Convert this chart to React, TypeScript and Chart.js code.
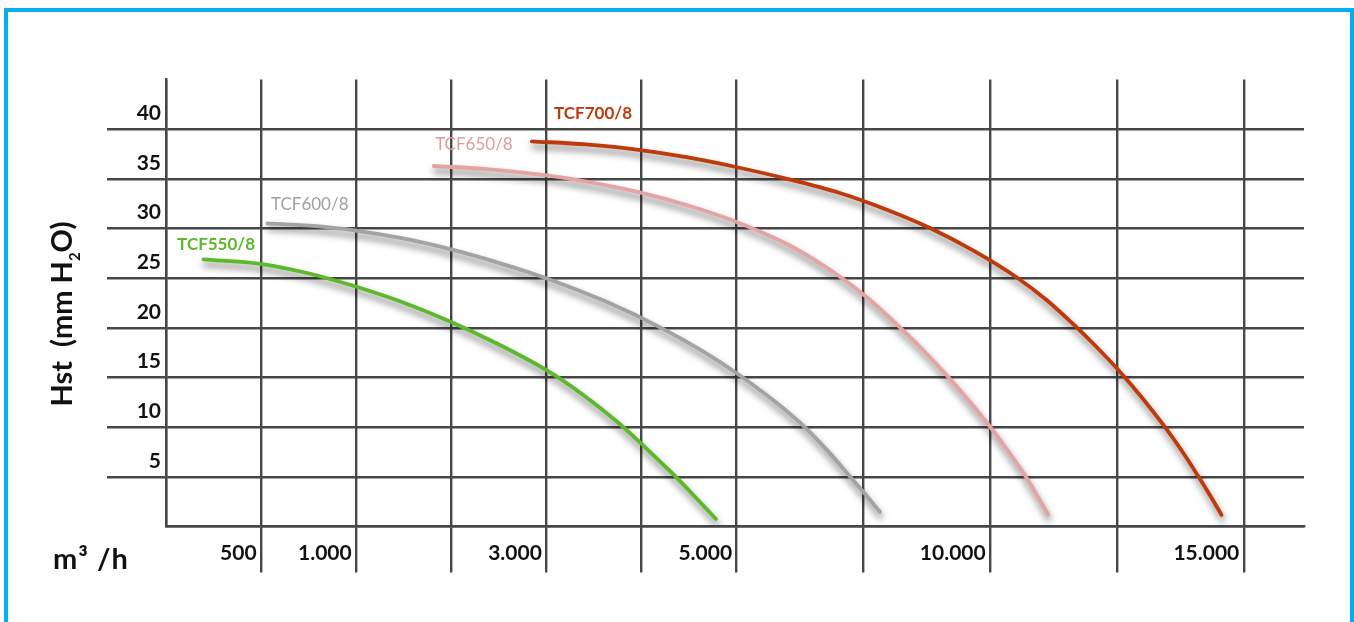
import React, { useEffect, useRef } from 'react';
import { Chart, registerables } from 'chart.js';

Chart.register(...registerables);

// ---------- data (x in axis grid units, y in mm H2O) ----------
const seriesNames = ['TCF550/8', 'TCF600/8', 'TCF650/8', 'TCF700/8'];

const tcf550X = [1.18, 2.97, 4.45, 5.93, 7.44, 8.96, 10.47, 11.99, 13.12, 14.26, 15.14, 15.99, 16.68, 17.35];
const tcf550Y = [26.9, 26.45, 25.52, 24.21, 22.6, 20.64, 18.37, 15.76, 13.34, 10.47, 7.9, 5.29, 3.02, 0.76];

const tcf600X = [3.2, 4.54, 5.93, 7.44, 8.96, 10.47, 11.99, 13.88, 15.68, 16.85, 17.98, 19.24, 20.19, 20.88, 21.51, 22.02, 22.52];
const tcf600Y = [30.52, 30.28, 29.82, 29.02, 27.92, 26.57, 25.0, 22.64, 19.9, 17.8, 15.48, 12.5, 9.88, 7.59, 5.29, 3.39, 1.48];

const tcf650X = [8.45, 10.19, 11.96, 13.44, 14.95, 16.47, 17.98, 19.68, 21.32, 22.21, 23.12, 23.91, 24.67, 25.33, 25.99, 26.53, 27.1, 27.83];
const tcf650Y = [36.29, 35.96, 35.37, 34.63, 33.63, 32.31, 30.69, 28.29, 25.02, 22.8, 20.14, 17.67, 15.07, 12.66, 10.07, 7.75, 5.13, 1.21];

const tcf700X = [11.54, 13.25, 14.95, 16.47, 17.98, 19.62, 21.26, 22.68, 24.1, 25.46, 26.84, 27.76, 28.68, 29.34, 30.0, 30.76, 31.51, 32.05, 32.56, 32.93, 33.3];
const tcf700Y = [38.78, 38.46, 37.9, 37.15, 36.19, 34.98, 33.57, 31.96, 30.05, 27.79, 25.07, 22.85, 20.19, 18.12, 15.91, 13.09, 10.02, 7.6, 5.08, 3.17, 1.16];

// curve name anchors (data units)
const labelAnchorX = [0.35, 3.31, 8.49, 12.24];
const labelAnchorY = [28.34, 32.37, 38.41, 41.53];

// axis ticks
const xGridUnits = [0, 3, 6, 9, 12, 15, 18, 22, 26, 30, 34];
const xTickLabels = ['', '500', '1.000', '', '3.000', '', '5.000', '', '10.000', '', '15.000'];
const yTickValues = [0, 5, 10, 15, 20, 25, 30, 35, 40];
const yTickLabels = ['', '5', '10', '15', '20', '25', '30', '35', '40'];

const xCaption = 'm³ /h';
const yCaptionParts = ['Hst  (mm H', '2', 'O)'];

// ---------- styles ----------
const FONT = 'Lato, "Open Sans", sans-serif';
const lineColors = ['#5DB92C', '#A3A3A3', '#E6A3A3', '#BF3A0A'];
const labelColors = ['#5DB92C', '#A0A0A0', '#E29A9A', '#BF3A0A'];
const labelWeights = ['bold', 'normal', 'normal', 'bold'];
const gridColor = '#474747';
const textColor = '#111111';

const seriesX = [tcf550X, tcf600X, tcf650X, tcf700X];
const seriesY = [tcf550Y, tcf600Y, tcf650Y, tcf700Y];

const shadowPlugin = {
  id: 'curveShadow',
  beforeDatasetDraw(chart: any) {
    const c = chart.ctx;
    c.save();
    c.shadowColor = 'rgba(0,0,0,0.55)';
    c.shadowBlur = 7;
    c.shadowOffsetX = 1;
    c.shadowOffsetY = 5;
  },
  afterDatasetDraw(chart: any) {
    chart.ctx.restore();
  },
};

const curveLabelPlugin = {
  id: 'curveLabels',
  afterDatasetsDraw(chart: any) {
    const { ctx } = chart;
    const xs = chart.scales.x;
    const ys = chart.scales.y;
    ctx.save();
    ctx.textAlign = 'left';
    ctx.textBaseline = 'middle';
    seriesNames.forEach((name, i) => {
      ctx.font = `${labelWeights[i]} 17px ${FONT}`;
      ctx.fillStyle = labelColors[i];
      ctx.fillText(name, xs.getPixelForValue(labelAnchorX[i]), ys.getPixelForValue(labelAnchorY[i]));
    });
    ctx.restore();
  },
};

const captionPlugin = {
  id: 'captions',
  afterDraw(chart: any) {
    const { ctx, chartArea } = chart;
    const xs = chart.scales.x;
    const ys = chart.scales.y;
    ctx.save();
    ctx.fillStyle = textColor;
    ctx.textBaseline = 'alphabetic';
    ctx.textAlign = 'left';
    ctx.font = `bold 29px ${FONT}`;
    try {
      (ctx as any).letterSpacing = '1px';
    } catch (e) {
      /* ignore */
    }
    ctx.fillText(xCaption, ys.left + 53, xs.top + 42);
    try {
      (ctx as any).letterSpacing = '0px';
    } catch (e) {
      /* ignore */
    }

    const big = `bold 29px ${FONT}`;
    const small = `bold 15px ${FONT}`;
    const fonts = [big, small, big];
    const shifts = [0, 8, 0];
    const widths = yCaptionParts.map((t, i) => {
      ctx.font = fonts[i];
      return ctx.measureText(t).width;
    });
    const total = widths.reduce((a, b) => a + b, 0);
    ctx.translate(ys.left + 72, (chartArea.top + chartArea.bottom) / 2 + 11);
    ctx.rotate(-Math.PI / 2);
    let x = -total / 2;
    yCaptionParts.forEach((t, i) => {
      ctx.font = fonts[i];
      ctx.fillText(t, x, shifts[i]);
      x += widths[i];
    });
    ctx.restore();
  },
};

export default function App() {
  const ref = useRef<HTMLCanvasElement>(null);

  useEffect(() => {
    const datasets = seriesNames.map((name, i) => ({
      label: name,
      data: seriesX[i].map((x, j) => ({ x, y: seriesY[i][j] })),
      borderColor: lineColors[i],
      backgroundColor: lineColors[i],
      borderWidth: 3.8,
      borderCapStyle: 'round' as const,
      borderJoinStyle: 'round' as const,
      pointRadius: 0,
      fill: false,
      cubicInterpolationMode: 'monotone' as const,
    }));

    const tickFont = { family: FONT, weight: 'bold' as const, size: 21 };

    const chart = new Chart(ref.current as HTMLCanvasElement, {
      type: 'line',
      data: { datasets },
      plugins: [shadowPlugin, curveLabelPlugin, captionPlugin],
      options: {
        responsive: false,
        animation: false,
        layout: { padding: { left: 0, top: 79.5, right: 50, bottom: 0 } },
        plugins: {
          legend: { display: false },
          tooltip: { enabled: false },
          title: { display: false },
        },
        scales: {
          x: {
            type: 'linear',
            min: 0,
            max: 35.9,
            afterBuildTicks: (s: any) => {
              s.ticks = xGridUnits.map((v) => ({ value: v }));
            },
            afterFit: (s: any) => {
              s.height = 95.5;
            },
            grid: {
              color: gridColor,
              lineWidth: 2.4,
              drawTicks: true,
              tickLength: 46,
              tickWidth: 2.4,
              tickColor: (c: any) => (c.tick && c.tick.value === 0 ? 'rgba(0,0,0,0)' : gridColor),
            },
            border: { display: true, color: gridColor, width: 2.4 },
            ticks: {
              autoSkip: false,
              maxRotation: 0,
              minRotation: 0,
              align: 'end',
              padding: -32,
              labelOffset: -4.5,
              color: textColor,
              font: tickFont,
              callback: (v: any) => {
                const k = xGridUnits.indexOf(Number(v));
                return k >= 0 ? xTickLabels[k] : '';
              },
            },
          },
          y: {
            type: 'linear',
            min: 0,
            max: 45,
            afterBuildTicks: (s: any) => {
              s.ticks = yTickValues.map((v) => ({ value: v }));
            },
            afterFit: (s: any) => {
              s.width = 166;
            },
            grid: {
              color: gridColor,
              lineWidth: 2.4,
              drawTicks: true,
              tickLength: 59,
              tickWidth: 2.4,
              tickColor: (c: any) => (c.tick && c.tick.value === 0 ? 'rgba(0,0,0,0)' : gridColor),
            },
            border: { display: true, color: gridColor, width: 2.4 },
            ticks: {
              autoSkip: false,
              padding: -54,
              labelOffset: -16,
              color: textColor,
              font: tickFont,
              callback: (v: any) => {
                const k = yTickValues.indexOf(Number(v));
                return k >= 0 ? yTickLabels[k] : '';
              },
            },
          },
        },
      } as any,
    });
    return () => chart.destroy();
  }, []);

  return (
    <div
      style={{
        position: 'fixed',
        left: 0,
        top: 0,
        width: 1354,
        height: 622,
        overflow: 'hidden',
        background: '#ffffff',
      }}
    >
      <div
        style={{
          position: 'absolute',
          left: 4,
          top: 8,
          width: 1350,
          height: 700,
          border: '4px solid #00B0F0',
          boxSizing: 'border-box',
        }}
      />
      <canvas
        ref={ref}
        width={1354}
        height={622}
        style={{ position: 'absolute', left: 0, top: 0 }}
      />
    </div>
  );
}
